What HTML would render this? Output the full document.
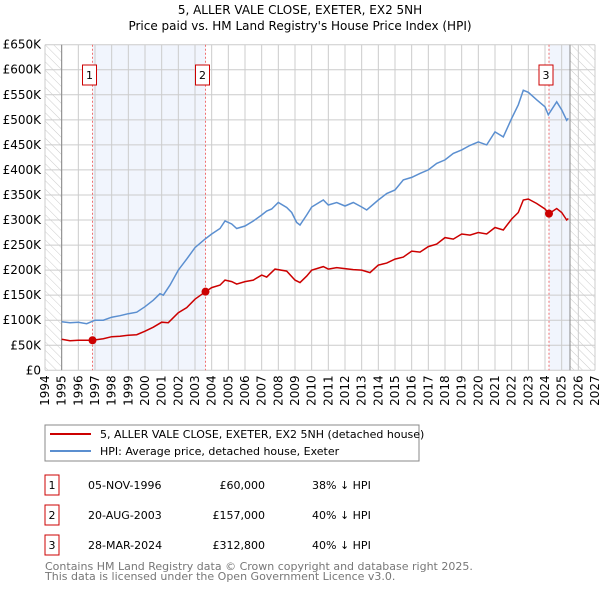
<!DOCTYPE html>
<html><head><meta charset="utf-8"><style>
body{margin:0;background:#fff;width:600px;height:590px;overflow:hidden;font-family:"DejaVu Sans","Liberation Sans",sans-serif}
svg text{font-family:"DejaVu Sans","Liberation Sans",sans-serif}
</style></head><body>
<svg id="chart" width="600" height="590" viewBox="0 0 600 590">
<defs>
<pattern id="hatch" width="6" height="6" patternUnits="userSpaceOnUse" patternTransform="rotate(-45)">
<line x1="0" y1="0" x2="0" y2="6" stroke="#ccc" stroke-width="1"/>
</pattern>
</defs>
<text x="300" y="14" text-anchor="middle" font-size="12">5, ALLER VALE CLOSE, EXETER, EX2 5NH</text>
<text x="300" y="30" text-anchor="middle" font-size="12">Price paid vs. HM Land Registry's House Price Index (HPI)</text>
<g id="plot"></g>
<rect x="45" y="425" width="374" height="36" fill="#fff" stroke="#888"/>
<line x1="50" y1="434" x2="91" y2="434" stroke="#cc0000" stroke-width="2"/>
<text x="100" y="438" font-size="11">5, ALLER VALE CLOSE, EXETER, EX2 5NH (detached house)</text>
<line x1="50" y1="451" x2="91" y2="451" stroke="#5b8fd0" stroke-width="2"/>
<text x="100" y="455" font-size="11">HPI: Average price, detached house, Exeter</text>
<g font-size="11" id="table"></g>
<text x="45" y="570" font-size="11" fill="#777">Contains HM Land Registry data © Crown copyright and database right 2025.</text>
<text x="45" y="580" font-size="11" fill="#777">This data is licensed under the Open Government Licence v3.0.</text>
</svg>
<script>
const hpiYears=[1995,1995.5,1996,1996.5,1997,1997.5,1998,1998.5,1999,1999.5,2000,2000.5,2000.9,2001.1,2001.5,2002,2002.5,2003,2003.6,2004,2004.5,2004.8,2005.2,2005.5,2006,2006.5,2007,2007.3,2007.6,2008,2008.5,2008.8,2009.1,2009.3,2009.7,2010,2010.7,2011,2011.5,2012,2012.5,2013,2013.3,2014,2014.5,2015,2015.5,2016,2016.5,2017,2017.5,2018,2018.5,2019,2019.5,2020,2020.5,2021,2021.5,2022,2022.4,2022.7,2023,2023.5,2024,2024.2,2024.7,2025,2025.3,2025.4];
const hpiValues=[97,95,96,93,100,100,106,109,113,116,127,140,153,150,170,200,222,245,262,272,283,298,292,283,288,298,310,318,322,335,325,315,295,290,310,326,340,330,335,328,335,326,320,340,353,360,380,385,393,400,413,420,433,440,449,456,450,476,466,503,530,559,555,540,526,510,536,520,499,503];
const ppYears=[1995,1995.5,1996,1996.85,1997.5,1998,1998.5,1999,1999.5,2000,2000.5,2001,2001.4,2002,2002.5,2003,2003.63,2004,2004.5,2004.8,2005.2,2005.5,2006,2006.5,2007,2007.3,2007.8,2008.5,2009,2009.3,2009.7,2010,2010.7,2011,2011.5,2012,2012.5,2013,2013.5,2014,2014.5,2015,2015.5,2016,2016.5,2017,2017.5,2018,2018.5,2019,2019.5,2020,2020.5,2021,2021.5,2022,2022.4,2022.7,2023,2023.5,2024,2024.24,2024.7,2025,2025.3,2025.4];
const ppValues=[62,59,60,60,63,67,68,70,71,78,86,96,95,115,125,142,157,165,170,180,177,172,177,180,190,186,202,198,180,175,188,200,207,202,205,203,201,200,195,210,214,222,226,238,236,247,252,265,262,272,270,275,272,285,280,302,315,340,342,333,322,312.8,323,315,300,303];
const saleYears=[1996.85,2003.63,2024.24];
const saleValues=[60,157,312.8];
const saleLabels=["1","2","3"];
const saleDates=["05-NOV-1996","20-AUG-2003","28-MAR-2024"];
const salePrices=["£60,000","£157,000","£312,800"];
const saleDiffs=["38% ↓ HPI","40% ↓ HPI","40% ↓ HPI"];
const yTicks=[0,50,100,150,200,250,300,350,400,450,500,550,600,650];
const yTickLabels=["£0","£50K","£100K","£150K","£200K","£250K","£300K","£350K","£400K","£450K","£500K","£550K","£600K","£650K"];
const xTicks=[1994,1995,1996,1997,1998,1999,2000,2001,2002,2003,2004,2005,2006,2007,2008,2009,2010,2011,2012,2013,2014,2015,2016,2017,2018,2019,2020,2021,2022,2023,2024,2025,2026,2027];

const NS="http://www.w3.org/2000/svg";
const L=45,R=595,T=44.7,B=370.3;
const X=y=>L+(y-1994)/(2027-1994)*(R-L);
const Y=v=>B-v/650*(B-T);
const g=document.getElementById('plot');
function mk(tag,attrs,parent){const e=document.createElementNS(NS,tag);for(const k in attrs)e.setAttribute(k,attrs[k]);(parent||g).appendChild(e);return e;}
let e;
e=mk('rect',{x:L,y:T,width:R-L,height:B-T,fill:'#fff'});


e=mk('rect',{x:L,y:T,width:X(1995)-L,height:B-T,fill:'url(#hatch)'});


e=mk('rect',{x:X(2025.5),y:T,width:R-X(2025.5),height:B-T,fill:'url(#hatch)'});


e=mk('rect',{x:X(saleYears[0]),y:T,width:X(saleYears[1])-X(saleYears[0]),height:B-T,fill:'#eef3fc',opacity:0.8});


e=mk('rect',{x:X(saleYears[2]),y:T,width:X(2025.5)-X(saleYears[2]),height:B-T,fill:'#eef3fc',opacity:0.8});


yTicks.forEach((v,i)=>{
 e=mk('line',{x1:L,x2:R,y1:Y(v),y2:Y(v),stroke:'#ccc','stroke-width':1});
 
 
 e=mk('text',{x:L-4,y:Y(v)+4,'text-anchor':'end','font-size':12});
 e.textContent=yTickLabels[i];
 
 
});
xTicks.forEach(yr=>{
 e=mk('line',{x1:X(yr),x2:X(yr),y1:T,y2:B,stroke:'#ccc','stroke-width':1});
 
 
 e=mk('text',{x:0,y:0,'font-size':12,'text-anchor':'end',transform:`translate(${X(yr)+4},${B+5}) rotate(-90)`});
 e.textContent=yr;
 
 
});
e=mk('line',{x1:X(1995),x2:X(1995),y1:T,y2:B,stroke:'#888'});


e=mk('line',{x1:X(2025.5),x2:X(2025.5),y1:T,y2:B,stroke:'#888'});


saleYears.forEach((yr,i)=>{
 e=mk('line',{x1:X(yr),x2:X(yr),y1:T,y2:B,stroke:'#f07070','stroke-dasharray':'2,2'});
 
 
 e=mk('rect',{x:X(yr)-10,y:65,width:14,height:20,fill:'#fff',stroke:'#cc0000'});
 
 
 e=mk('text',{x:X(yr)-3,y:79,'text-anchor':'middle','font-size':11});
 e.textContent=saleLabels[i];
 
 
});
const path=(xs,vs)=>xs.map((x,i)=>(i?'L':'M')+X(x).toFixed(1)+','+Y(vs[i]).toFixed(1)).join('');
e=mk('path',{d:path(hpiYears,hpiValues),fill:'none',stroke:'#5b8fd0','stroke-width':1.5});


e=mk('path',{d:path(ppYears,ppValues),fill:'none',stroke:'#cc0000','stroke-width':1.5});


saleYears.forEach((yr,i)=>{
 e=mk('circle',{cx:X(yr),cy:Y(saleValues[i]),r:4,fill:'#cc0000'});
 
 
});
const t=document.getElementById('table');
saleLabels.forEach((lb,i)=>{
 const y0=475+i*30;
 e=mk('rect',{x:45,y:y0,width:14,height:20,fill:'#fff',stroke:'#cc0000'},t);
 
 
 e=mk('text',{x:52,y:y0+14,'text-anchor':'middle'},t);e.textContent=lb;
 
 
 e=mk('text',{x:88,y:y0+14},t);e.textContent=saleDates[i];
 
 
 e=mk('text',{x:265,y:y0+14,'text-anchor':'end'},t);e.textContent=salePrices[i];
 
 
 e=mk('text',{x:312,y:y0+14},t);e.textContent=saleDiffs[i];
 
 
});
</script>
</body></html>
